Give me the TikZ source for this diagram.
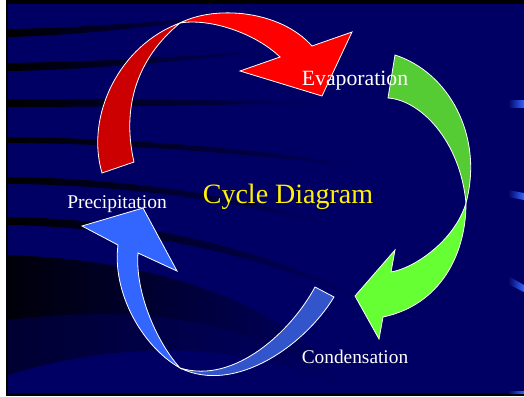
\documentclass[tikz,border=0pt]{standalone}
\usepackage{fontspec}
\setmainfont{Liberation Serif}
\tikzset{every picture/.style={line width=0.75pt}}
\definecolor{navyback}{RGB}{0,0,100}
\definecolor{redback}{RGB}{204,0,0}
\definecolor{redfront}{RGB}{255,0,0}
\definecolor{greenback}{RGB}{85,204,51}
\definecolor{greenfront}{RGB}{102,255,51}
\definecolor{blueback}{RGB}{51,85,204}
\definecolor{bluefront}{RGB}{51,102,255}
\tikzset{
  ribbon/.style={draw=white, line width=0.6pt},
  streak/.style={left color=black, right color=navyback},
  glint/.style={left color=navyback, right color=bluefront},
  stagelabel/.style={text=white, inner sep=0.75pt, anchor=base}
}

\begin{document}
\begin{tikzpicture}[x=0.75pt,y=0.75pt,yscale=-1,xscale=1]
\useasboundingbox (0,0) rectangle (524,396);

%Shape: Frame
\fill [white] (0,0) rectangle (524,396);
\fill [black] (6,0) rectangle (524,395.5);
\fill [navyback] (8,4) rectangle (524,393);

%Background streaks
\shade [streak] (8,29) .. controls (90,28) and (170,20) .. (260,14) .. controls (170,24) and (90,35) .. (8,37) -- cycle ;
\shade [streak] (8,63) .. controls (100,62) and (200,55) .. (290,50) .. controls (200,58) and (100,70) .. (8,71) -- cycle ;
\shade [streak] (8,99) .. controls (120,99) and (250,100) .. (350,103) .. controls (250,104) and (120,107) .. (8,107) -- cycle ;
\shade [streak] (8,137) .. controls (120,138) and (270,148) .. (380,170) .. controls (270,155) and (120,143) .. (8,143) -- cycle ;
\shade [streak] (8,177) .. controls (120,178) and (250,195) .. (340,228) .. controls (250,203) and (120,184) .. (8,184) -- cycle ;
\shade [streak] (8,217) .. controls (110,218) and (260,240) .. (370,305) .. controls (260,250) and (110,226) .. (8,225) -- cycle ;
%Background shadow, lower left
\shade [streak, opacity=0.5] (8,255) .. controls (150,260) and (290,300) .. (345,390) .. controls (250,340) and (120,340) .. (8,375) -- cycle ;
\shade [streak, opacity=0.8] (8,255) .. controls (150,260) and (290,300) .. (340,385) .. controls (250,315) and (130,305) .. (8,320) -- cycle ;

%Right edge glints
\shade [glint] (508,100) -- (524,100) -- (524,107) -- (508,107) -- cycle ;
\shade [glint] (508,190) -- (524,193) -- (524,200) -- (508,197) -- cycle ;
\shade [glint] (508,276) -- (524,285) -- (524,292) -- (508,284) -- cycle ;
\shade [glint] (508,391) -- (524,391) -- (524,393) -- (508,393) -- cycle ;

%Shape: Red ribbon, back
\filldraw [ribbon, fill=redback] (102,173) .. controls (85,115) and (120,45) .. (180,23) .. controls (135,60) and (122,110) .. (134,162) -- cycle ;
%Shape: Red ribbon, front with head
\filldraw [ribbon, fill=redfront] (180,23) .. controls (215,5) and (280,10) .. (312,46) -- (352,32) -- (322,96) -- (240,71) -- (280,57) .. controls (255,33) and (210,18) .. (180,23) -- cycle ;

%Shape: Green ribbon, back
\filldraw [ribbon, fill=greenback] (395,55) .. controls (448,72) and (484,135) .. (466,203) .. controls (460,140) and (420,100) .. (388,98) -- cycle ;
%Shape: Green ribbon, front with head
\filldraw [ribbon, fill=greenfront] (466,203) .. controls (466,255) and (440,305) .. (383,317) -- (379,339) -- (355,296) -- (395,250) -- (391,272) .. controls (415,268) and (455,240) .. (466,203) -- cycle ;

%Shape: Blue ribbon, back
\filldraw [ribbon, fill=blueback] (334,297) .. controls (305,345) and (235,395) .. (180,368) .. controls (235,385) and (292,330) .. (315,287) -- cycle ;
%Shape: Blue ribbon, front with head
\filldraw [ribbon, fill=bluefront] (180,368) .. controls (140,345) and (112,290) .. (118,245) -- (82,226) -- (143,208) -- (177,271) -- (138,253) .. controls (135,290) and (155,340) .. (180,368) -- cycle ;

% Text Node
\node (evap) [stagelabel, font=\fontsize{16.3}{18}\selectfont] at (355,85) {Evaporation};
% Text Node
\node (precip) [stagelabel, font=\fontsize{14.6}{17}\selectfont] at (117,208) {Precipitation};
% Text Node
\node (cond) [stagelabel, font=\fontsize{14.5}{17}\selectfont] at (355,363) {Condensation};
% Text Node
\node (title) [stagelabel, text=yellow, font=\fontsize{21}{24}\selectfont] at (288,203) {Cycle Diagram};
\end{tikzpicture}
\end{document}
